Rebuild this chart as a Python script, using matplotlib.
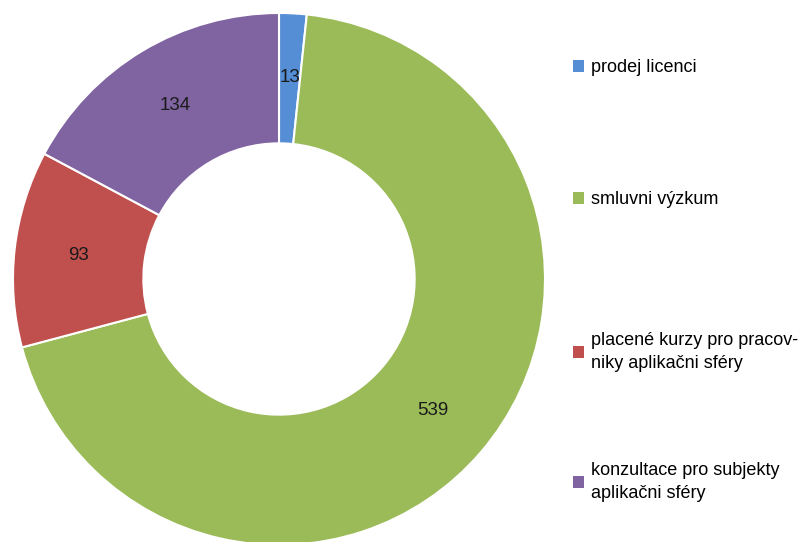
import matplotlib
matplotlib.use("Agg")
import matplotlib.pyplot as plt
from matplotlib.patches import Patch

# data
labels = ["prodej licenci", "smluvni výzkum",
          "placené kurzy pro pracov-\nniky aplikačni sféry",
          "konzultace pro subjekty\naplikačni sféry"]
values = [13, 539, 93, 134]
colors = ["#558ED5", "#9BBB59", "#C0504D", "#8064A2"]

plt.rcParams['font.family'] = ['Liberation Sans Narrow', 'Liberation Sans', 'DejaVu Sans']

W, H = 807, 542
fig = plt.figure(figsize=(W / 100, H / 100), dpi=100)
cx, cy, R = 279, 279, 266
ax = fig.add_axes([(cx - R) / W, (H - cy - R) / H, 2 * R / W, 2 * R / H])

wedges, texts, autotexts = ax.pie(
    values, colors=colors, startangle=90, counterclock=False,
    radius=1.0, autopct=lambda p: f"{p * sum(values) / 100:.0f}",
    pctdistance=0.76,
    wedgeprops=dict(width=0.49, edgecolor="white", linewidth=1.5),
    textprops=dict(fontsize=13.5, color="#1a1a1a"))
ax.set_xlim(-1, 1)
ax.set_ylim(-1, 1)
ax.set_aspect('equal')
ax.axis('off')

# legend entries placed individually (Excel spreads them down the side)
ys = [68, 200, 352, 482]
for w, lab, y in zip(wedges, labels, ys):
    h = Patch(facecolor=w.get_facecolor(), edgecolor='none')
    leg = fig.legend([h], [lab], loc='center left', bbox_to_anchor=(573 / W, 1 - y / H),
                     frameon=False, fontsize=13, handlelength=0.6, handleheight=0.6,
                     handletextpad=0.4, borderpad=0, borderaxespad=0)
    for t in leg.get_texts():
        t.set_linespacing(1.45)

fig.savefig("out.png", dpi=100)
